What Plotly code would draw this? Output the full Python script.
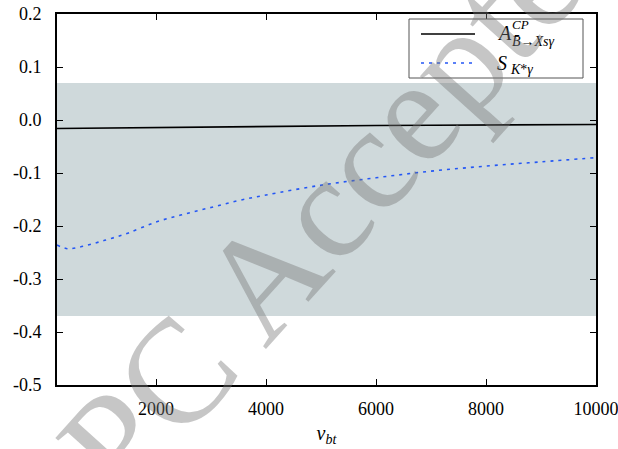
import plotly.graph_objects as go

# v_bt scan points
v_bt = [200, 400, 600, 800, 1000, 1200, 1500, 2000, 2500, 3000, 3500,
        4000, 5000, 6000, 7000, 8000, 9000, 10000]

# CP asymmetry in B -> X_s gamma
a_cp = [-0.0160, -0.0158, -0.0155, -0.0152, -0.0150, -0.0148, -0.0144, -0.0137,
        -0.0131, -0.0126, -0.0121, -0.0117, -0.0110, -0.0104, -0.0099, -0.0094,
        -0.0089, -0.0085]

# time-dependent CP asymmetry S_{K* gamma}
s_kg = [-0.236, -0.243, -0.240, -0.235, -0.229, -0.223, -0.213, -0.1925,
        -0.178, -0.165, -0.152, -0.1415, -0.123, -0.109, -0.0965, -0.087,
        -0.079, -0.071]

# experimental band for S_{K* gamma}
band_low, band_high = -0.37, 0.07

y_ticks = [0.2, 0.1, 0.0, -0.1, -0.2, -0.3, -0.4, -0.5]
y_tick_text = ["0.2", "0.1", "0.0", "-0.1", "-0.2", "-0.3", "-0.4", "-0.5"]
x_ticks = [2000, 4000, 6000, 8000, 10000]
x_tick_text = ["2000", "4000", "6000", "8000", "10000"]

W, H = 618, 449
L, R, T, B = 57, 22, 14, 64
PW, PH = W - L - R, H - T - B


def px(x):
    return (x - L) / PW


def py(y):
    return (H - B - y) / PH


SERIF = "Liberation Serif, DejaVu Serif, serif"

fig = go.Figure()

fig.add_trace(go.Scatter(
    x=v_bt, y=a_cp, mode="lines", name="A_CP",
    line=dict(color="black", width=1.6), showlegend=False))
fig.add_trace(go.Scatter(
    x=v_bt, y=s_kg, mode="lines", name="S_K*gamma", line_shape="spline",
    line=dict(color="#2457f5", width=1.6, dash="3px,5px"), showlegend=False))

shapes = [
    dict(type="rect", xref="paper", yref="y", x0=0, x1=1,
         y0=band_low, y1=band_high, fillcolor="#cfd9db",
         line=dict(width=0), layer="below"),
    # legend frame and samples
    dict(type="rect", xref="paper", yref="paper", x0=px(409), x1=px(583),
         y0=py(78), y1=py(19), fillcolor="white",
         line=dict(color="#555555", width=1), layer="above"),
    dict(type="line", xref="paper", yref="paper", x0=px(421), x1=px(475),
         y0=py(34), y1=py(34), line=dict(color="black", width=1.6)),
    dict(type="line", xref="paper", yref="paper", x0=px(421), x1=px(475),
         y0=py(63), y1=py(63),
         line=dict(color="#2457f5", width=1.6, dash="3px,5px")),
]

ann = []


def label(text, x, y, size):
    ann.append(dict(text=text, xref="paper", yref="paper", x=px(x), y=py(y),
                    xanchor="left", yanchor="middle", showarrow=False,
                    font=dict(family=SERIF, size=size, color="black")))


label("<i>A</i>", 495, 33, 20)
label("<i>CP</i>", 510, 24, 13)
label("<i>B̄</i>→<i>Xsγ</i>", 510, 42, 14)
label("<i>S</i>", 495, 63, 20)
label("<i>K</i>*<i>γ</i>", 508, 70, 14)

# watermark
ann.append(dict(text="CPC Accepted", xref="paper", yref="paper",
                x=px(311), y=py(224), xanchor="center", yanchor="middle",
                showarrow=False, textangle=-48,
                font=dict(family=SERIF, size=148, color="rgba(120,120,120,0.42)")))

axis_common = dict(showline=True, linecolor="black", linewidth=2, mirror="ticks",
                   ticks="inside", ticklen=6, tickwidth=1, tickcolor="black",
                   showgrid=False, zeroline=False, ticklabeloverflow="allow",
                   automargin=False,
                   tickfont=dict(family=SERIF, size=18, color="black"))

fig.update_layout(
    width=W, height=H, margin=dict(l=L, r=R, t=T, b=B, autoexpand=False),
    paper_bgcolor="white", plot_bgcolor="white",
    shapes=shapes, annotations=ann,
    xaxis=dict(range=[200, 10000], tickvals=x_ticks, ticktext=x_tick_text,
               ticklabelstandoff=6,
               title=dict(text="<i>v</i><sub><i>bt</i></sub>", standoff=8,
                          font=dict(family=SERIF, size=20, color="black")),
               **axis_common),
    yaxis=dict(range=[-0.5, 0.2], tickvals=y_ticks, ticktext=y_tick_text,
               ticklabelstandoff=10, **axis_common),
)

fig.write_html("out.html")
